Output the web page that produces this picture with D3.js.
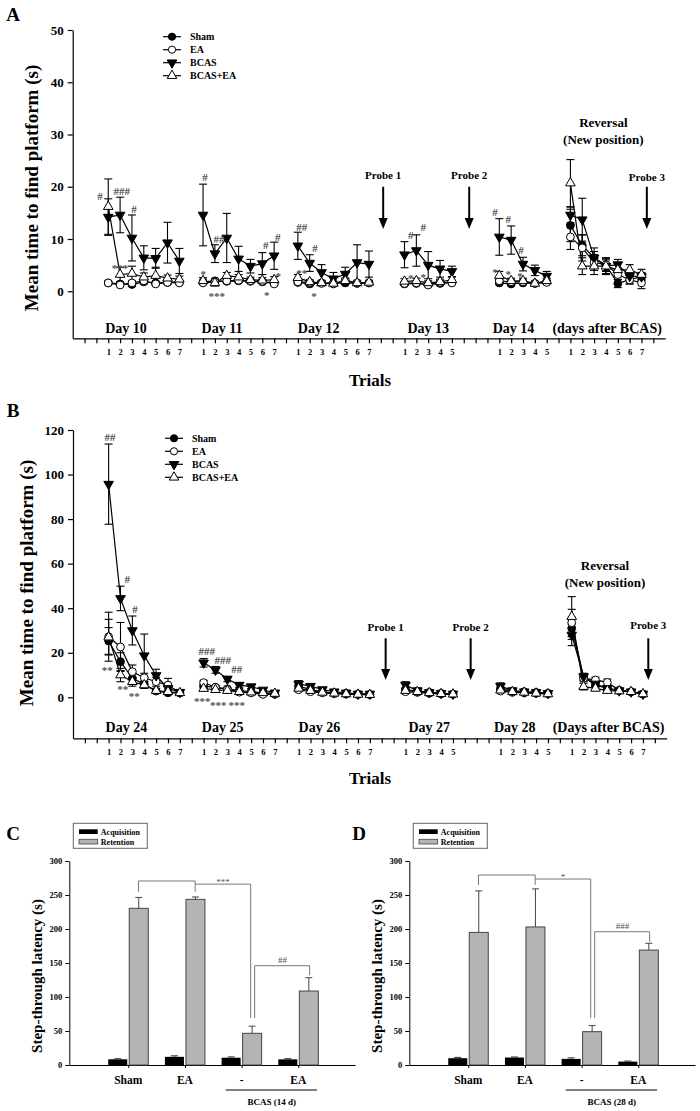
<!DOCTYPE html>
<html><head><meta charset="utf-8">
<script src="https://cdn.jsdelivr.net/npm/d3@7"></script>
<style>
body{margin:0;background:#fff}
text{font-family:"Liberation Serif","Times New Roman",serif;font-weight:bold;fill:#000}
</style>
</head><body><script>
// ---------------- DATA ----------------
const groups = ["Sham","EA","BCAS","BCAS+EA"];
const trialCounts = [7,7,7,5,5,7];
const dayStart = [3,11,19,28,36,42];          // trial-index of first trial of each session
const dayLabelsA = ["Day 10","Day 11","Day 12","Day 13","Day 14","(days after BCAS)"];
const dayLabelsB = ["Day 24","Day 25","Day 26","Day 27","Day 28","(Days after BCAS)"];
const yTicksA = [0,10,20,30,40,50];
const yTicksB = [0,20,40,60,80,100,120];
const yTicksBar = [0,50,100,150,200,250,300];
const probeLabels = ["Probe 1","Probe 2","Probe 3"];

const shamA = [1.6,1.4,1.3,1.8,1.6,1.7,1.8, 1.8,2.0,1.9,2.0,1.9,1.8,1.6, 1.7,1.4,1.6,1.5,1.6,1.5,1.6, 1.4,1.5,1.3,1.5,1.7, 1.6,1.4,1.6,1.5,1.8, 12.6,8.8,6.4,5.0,1.5,2.2,2.8];
const shamErrA = [0.3,0.3,0.3,0.4,0.3,0.3,0.3, 0.3,0.3,0.3,0.3,0.3,0.3,0.3, 0.3,0.3,0.3,0.3,0.3,0.3,0.3, 0.3,0.3,0.3,0.3,0.3, 0.3,0.3,0.3,0.3,0.3, 3.1,2.0,1.2,1.0,0.8,0.8,0.5];
const eaA = [1.6,1.2,1.6,2.0,1.4,1.7,1.6, 1.6,1.8,2.0,2.1,2.0,1.9,1.4, 1.8,1.7,1.5,1.4,2.1,1.6,1.6, 1.5,1.6,1.2,1.7,1.6, 2.0,1.8,1.8,1.5,1.7, 10.4,8.3,5.5,5.1,3.2,2.2,1.6];
const eaErrA = [0.3,0.3,0.3,0.3,0.3,0.3,0.3, 0.3,0.3,0.3,0.3,0.3,0.3,0.3, 0.3,0.3,0.3,0.3,0.3,0.3,0.3, 0.3,0.3,0.3,0.3,0.3, 0.3,0.3,0.3,0.3,0.3, 2.4,2.5,1.5,1.3,1.0,0.8,1.1];
const bcasA = [14.2,14.6,10.2,6.4,6.3,9.3,5.8, 14.6,7.2,10.2,6.2,4.8,5.3,6.8, 8.7,5.4,3.6,2.4,3.3,5.5,5.2, 7.0,7.8,5.0,4.3,3.8, 10.4,9.8,5.2,4.0,2.9, 14.6,13.7,6.4,4.8,5.1,2.9,2.8];
const bcasErrA = [3.5,3.4,4.4,2.3,1.9,3.9,2.4, 5.9,1.7,4.7,2.4,1.3,2.1,2.6, 2.6,1.6,1.5,1.2,1.3,3.4,2.5, 2.5,3.0,2.6,1.6,1.0, 3.5,2.7,1.3,1.0,0.9, 1.5,4.1,1.9,1.4,1.0,0.8,0.8];
const bcasEaA = [16.2,3.2,3.4,2.7,3.0,2.5,2.3, 2.0,1.6,3.0,2.7,2.2,2.1,2.2, 2.6,1.8,1.6,1.5,2.0,1.6,1.7, 1.9,2.0,1.6,1.8,2.2, 3.0,2.0,2.0,1.5,2.0, 20.7,4.8,4.8,4.8,4.1,4.1,3.2];
const bcasEaErrA = [5.3,1.4,1.4,0.8,1.6,0.6,0.6, 0.6,0.6,0.6,0.5,0.5,0.5,0.6, 0.6,0.4,0.4,0.4,0.5,0.4,0.4, 0.5,0.5,0.4,0.5,0.5, 0.8,0.5,0.5,0.4,0.5, 4.5,1.6,1.6,1.6,1.3,1.0,1.0];

const shamB = [25.3,16.0,8.5,5.8,2.8,2.0,2.0, 5.0,4.5,3.8,3.0,2.5,2.0,1.5, 5.0,3.5,2.5,2.0,1.8,1.5,1.3, 3.5,2.8,2.2,1.8,1.5, 3.8,2.8,2.5,2.2,1.8, 31.0,9.0,5.5,4.0,3.0,2.5,1.5];
const shamErrB = [6.0,4.0,2.0,1.5,1.0,0.6,0.5, 1.0,0.8,0.7,0.6,0.5,0.4,0.3, 1.0,0.7,0.5,0.4,0.4,0.3,0.3, 0.8,0.6,0.5,0.4,0.3, 0.8,0.6,0.5,0.4,0.4, 5.0,1.5,1.0,0.8,0.6,0.5,0.4];
const eaB = [27.2,22.6,11.5,8.8,7.0,5.5,2.0, 6.6,4.5,3.5,2.3,2.0,1.3,1.3, 3.4,2.5,2.0,1.6,1.4,1.2,1.2, 2.5,2.2,1.8,1.5,1.3, 2.8,2.2,2.0,1.8,1.6, 33.5,8.5,7.8,6.7,3.2,2.5,1.4];
const eaErrB = [11.0,11.0,3.0,2.0,2.0,3.0,1.0, 1.0,0.8,0.6,0.5,0.4,0.3,0.3, 0.6,0.5,0.4,0.3,0.3,0.3,0.3, 0.5,0.4,0.3,0.3,0.3, 0.6,0.4,0.4,0.3,0.3, 6.0,1.5,1.2,1.5,0.6,0.5,0.4];
const bcasB = [95.7,44.4,30.0,18.7,9.8,4.0,2.3, 15.5,12.3,8.2,5.5,4.8,3.3,2.0, 6.0,5.0,3.5,2.5,2.0,1.5,1.5, 5.5,3.0,2.2,1.8,1.5, 5.0,3.0,2.5,2.2,1.8, 28.0,9.3,6.0,4.0,3.0,2.5,1.5];
const bcasErrB = [18.0,5.5,6.5,9.7,2.8,1.5,1.0, 1.9,1.5,1.2,1.0,0.8,0.6,0.5, 1.5,1.0,0.8,0.6,0.5,0.4,0.4, 1.5,0.8,0.6,0.5,0.4, 1.5,0.8,0.6,0.5,0.4, 4.8,1.5,1.2,1.0,0.8,0.6,0.5];
const bcasEaB = [27.0,10.0,7.0,5.5,3.0,2.5,2.0, 3.9,3.4,3.0,2.5,2.3,2.0,1.7, 4.0,3.0,2.2,1.8,1.5,1.3,1.2, 3.0,2.5,2.0,1.6,1.4, 3.2,2.5,2.2,1.8,1.5, 36.2,4.8,4.0,3.0,2.8,2.5,1.5];
const bcasEaErrB = [8.0,3.0,2.0,1.5,1.0,0.8,0.6, 0.8,0.6,0.5,0.4,0.4,0.3,0.3, 0.8,0.6,0.4,0.3,0.3,0.3,0.3, 0.6,0.5,0.4,0.3,0.3, 0.6,0.5,0.4,0.3,0.3, 9.0,1.5,1.0,0.8,0.6,0.5,0.4];

// significance marks: [text, trial-index, value]
const marksA = [["#",2.31,18.2],["###",4.13,19.1],["#",5.17,15.7],["***",3.99,4.9],
  ["#",11.16,21.9],["##",12.35,10.0],["#",16.29,8.9],["#",17.3,10.4],["*",11.02,3.9],["***",12.15,-0.4],["*",16.37,-0.1],["*",17.35,3.4],
  ["##",19.32,12.2],["#",20.45,8.2],["**",19.32,4.1],["*",20.36,-0.3],
  ["#",28.52,10.8],["#",29.59,12.2],["*",28.52,3.1],["*",29.59,3.3],
  ["#",35.64,15.1],["#",36.76,13.8],["#",37.83,7.9],["*",35.64,4.2],["*",36.76,3.9],["*",37.74,3.4]];
const marksB = [["##",3.12,117],["#",4.57,53.1],["#",5.22,39.6],["**",2.89,13.5],["**",4.19,5.1],["**",5.16,1.8],
  ["###",11.26,20.9],["###",12.61,16.7],["##",13.79,12.6],["***",10.89,-0.4],["***",12.24,-2.4],["***",13.79,-2.4]];

// bar panels
const barCats = ["Sham","EA","-","EA"];
const acqC = [8.4,12.0,10.7,8.3];   const acqErrC = [0.8,1.5,1.2,1.0];
const retC = [230.4,243.6,46.6,108.8]; const retErrC = [16,3.5,10.5,19.6];
const acqD = [10.0,11.0,9.0,5.0];   const acqErrD = [1.2,0.8,1.5,0.8];
const retD = [195,203,49,169];      const retErrD = [61,56,9,10];

// ---------------- DRAW ----------------
const W=700,H=1111;
const svg = d3.select("body").append("svg").attr("width",W).attr("height",H);

const xIndex=[]; const sessOff=[]; {let a=0; trialCounts.forEach((c,s)=>{sessOff.push(a); for(let k=0;k<c;k++) xIndex.push(dayStart[s]+k); a+=c;});}
const trialLbl={}; trialCounts.forEach((c,s)=>{for(let k=0;k<c;k++) trialLbl[dayStart[s]+k]=k+1;});
const dayLblPos=[4.5,12.6,20.75,30.0,37.2,45.1];

function marker(g, shape, cx, cy, r){
  r = r||3.9;
  if(shape==="fc"||shape==="oc"){
    g.append("circle").attr("cx",cx).attr("cy",cy).attr("r",r)
      .attr("fill",shape==="fc"?"#000":"#fff").attr("stroke","#000").attr("stroke-width",1);
  } else {
    g.append("path").attr("d",d3.symbol(d3.symbolTriangle,40)())
      .attr("transform",`translate(${cx},${cy}) rotate(${shape==="ft"?180:0})`)
      .attr("fill",shape==="ft"?"#000":"#fff").attr("stroke","#000").attr("stroke-width",1);
  }
}
const shapes=["fc","oc","ft","ot"];

function linePanel(o){
  const g=svg.append("g");
  const x=d3.scaleLinear().domain([0,50]).range(o.xr);
  const y=d3.scaleLinear().domain(o.yd).range(o.yr);
  const axB=g.append("g").attr("transform",`translate(0,${o.yr[0]})`)
    .call(d3.axisBottom(x).tickValues(d3.range(1,50)).tickSize(5).tickSizeOuter(0).tickPadding(6).tickFormat(d=>trialLbl[d]||""));
  axB.selectAll("text").style("font-size","8.5px").attr("font-family",null);
  const axL=g.append("g").attr("transform",`translate(${o.xr[0]},0)`)
    .call(d3.axisLeft(y).tickValues(o.yt).tickSize(5).tickSizeOuter(0).tickPadding(4));
  axL.selectAll("text").style("font-size","13px").attr("font-family",null);
  g.selectAll(".domain,.tick line").attr("stroke","#000").attr("stroke-width",1.2);

  o.days.forEach((t,i)=>g.append("text").attr("x",x(dayLblPos[i])).attr("y",o.dayY)
    .attr("text-anchor","middle").style("font-size","14px").text(t));
  g.append("text").attr("x",o.trialsX).attr("y",o.trialsY).attr("text-anchor","middle").style("font-size","17px").text("Trials");
  g.append("text").attr("transform",`translate(${o.titleX},${o.titleY}) rotate(-90)`).attr("text-anchor","middle")
    .attr("dy","0.35em").style("font-size","19px").text("Mean time to find platform (s)");
  g.append("text").attr("x",13).attr("y",o.letterY).attr("text-anchor","middle").attr("dy","0.35em").style("font-size","19px").text(o.letter);

  const line=d3.line().x(d=>x(d[0])).y(d=>y(d[1]));
  o.series.forEach((s,si)=>{
    trialCounts.forEach((c,k)=>{
      const pts=[]; for(let j=0;j<c;j++){const i=sessOff[k]+j; pts.push([xIndex[i],s.v[i]]);}
      g.append("path").attr("d",line(pts)).attr("fill","none").attr("stroke","#000").attr("stroke-width",1.2);
    });
  });
  o.series.forEach((s,si)=>{
    s.v.forEach((v,i)=>{
      const cx=x(xIndex[i]), y1=y(v+s.e[i]), y0=y(v-s.e[i]);
      g.append("line").attr("x1",cx).attr("x2",cx).attr("y1",y1).attr("y2",y0).attr("stroke","#000").attr("stroke-width",1.1);
      [y1,y0].forEach(yy=>g.append("line").attr("x1",cx-4).attr("x2",cx+4).attr("y1",yy).attr("y2",yy).attr("stroke","#000").attr("stroke-width",1.1));
    });
  });
  o.series.forEach((s,si)=>{
    s.v.forEach((v,i)=>marker(g,shapes[si],x(xIndex[i]),y(v)));
  });
  o.marks.forEach(m=>g.append("text").attr("x",x(m[1])).attr("y",y(m[2])).attr("text-anchor","middle")
    .attr("dy",m[0].includes("*")?"0.62em":"0.35em").style("font-size","11px").style("fill","#505050").text(m[0]));
  groups.forEach((t,i)=>{
    const ly=o.legY+i*13;
    g.append("line").attr("x1",o.legX).attr("x2",o.legX+18).attr("y1",ly).attr("y2",ly).attr("stroke","#000").attr("stroke-width",1.2);
    marker(g,shapes[i],o.legX+9,ly,3.6);
    g.append("text").attr("x",o.legX+27).attr("y",ly).attr("dy","0.35em").style("font-size","10px").text(t);
  });
  o.probes.forEach((p,i)=>{
    const px=x(p);
    g.append("text").attr("x",px).attr("y",y(o.probeText[i])).attr("dy","0.35em").attr("text-anchor","middle").style("font-size","11px").text(probeLabels[i]);
    const ya=y(o.probeArrow[0]), yb=y(o.probeArrow[1]);
    g.append("line").attr("x1",px).attr("x2",px).attr("y1",ya).attr("y2",yb-8).attr("stroke","#000").attr("stroke-width",2);
    g.append("path").attr("d",`M${px-4.5},${yb-11}L${px+4.5},${yb-11}L${px},${yb}Z`).attr("fill","#000");
  });
  g.append("text").attr("x",x(o.rev[0])).attr("y",y(o.rev[1])).attr("dy","0.35em").attr("text-anchor","middle").style("font-size","13px").text("Reversal");
  g.append("text").attr("x",x(o.rev[0])).attr("y",y(o.rev[2])).attr("dy","0.35em").attr("text-anchor","middle").style("font-size","13px").text("(New position)");
}

linePanel({xr:[72.7,665.2], yd:[-9,50], yr:[338.3,30], yt:yTicksA, days:dayLabelsA, dayY:333, trialsX:370, trialsY:386,
  titleX:31.7, titleY:188, letter:"A", letterY:14,
  series:[{v:shamA,e:shamErrA},{v:eaA,e:eaErrA},{v:bcasA,e:bcasErrA},{v:bcasEaA,e:bcasEaErrA}],
  marks:marksA, legX:163, legY:36.7, probes:[26.2,33.46,48.45], probeText:[22.3,22.3,21.9], probeArrow:[20.0,11.9],
  rev:[44.78,32.3,29.1]});
linePanel({xr:[73,666.7], yd:[-18.4,120], yr:[738.3,430], yt:yTicksB, days:dayLabelsB, dayY:731.5, trialsX:370, trialsY:784,
  titleX:26, titleY:583, letter:"B", letterY:410,
  series:[{v:shamB,e:shamErrB},{v:eaB,e:eaErrB},{v:bcasB,e:bcasErrB},{v:bcasEaB,e:bcasEaErrB}],
  marks:marksB, legX:165, legY:438.3, probes:[26.33,33.49,48.45], probeText:[31.4,31.4,32.4], probeArrow:[26.5,7.8],
  rev:[44.8,59.1,51.6]});

function barPanel(o){
  const g=svg.append("g");
  const x=d3.scaleLinear().domain([-0.04,5]).range(o.xr);
  const y=d3.scaleLinear().domain([0,300]).range([1065,861]);
  g.append("g").attr("transform","translate(0,1065)")
    .call(d3.axisBottom(x).tickValues([1,2,3,4]).tickSize(3).tickSizeOuter(0).tickFormat(""));
  const axL=g.append("g").attr("transform",`translate(${o.xr[0]},0)`)
    .call(d3.axisLeft(y).tickValues(yTicksBar).tickSize(4).tickSizeOuter(0).tickPadding(3));
  axL.selectAll("text").style("font-size","8.5px").attr("font-family",null);
  g.selectAll(".domain,.tick line").attr("stroke","#000").attr("stroke-width",1);
  [1,2,3,4].forEach((c,i)=>{
    const cx=x(c);
    g.append("rect").attr("x",cx-20).attr("width",19).attr("y",y(o.acq[i])).attr("height",y(0)-y(o.acq[i])).attr("fill","#000");
    g.append("line").attr("x1",cx-10.5).attr("x2",cx-10.5).attr("y1",y(o.acq[i])).attr("y2",y(o.acq[i]+o.acqE[i])).attr("stroke","#333");
    g.append("line").attr("x1",cx-14).attr("x2",cx-7).attr("y1",y(o.acq[i]+o.acqE[i])).attr("y2",y(o.acq[i]+o.acqE[i])).attr("stroke","#333");
    g.append("line").attr("x1",cx+10.5).attr("x2",cx+10.5).attr("y1",y(o.ret[i])).attr("y2",y(o.ret[i]+o.retE[i])).attr("stroke","#444");
    g.append("line").attr("x1",cx+7).attr("x2",cx+14).attr("y1",y(o.ret[i]+o.retE[i])).attr("y2",y(o.ret[i]+o.retE[i])).attr("stroke","#444");
    g.append("rect").attr("x",cx+1).attr("width",19).attr("y",y(o.ret[i])).attr("height",y(0)-y(o.ret[i]))
      .attr("fill","#b4b4b4").attr("stroke","#444").attr("stroke-width",1);
    g.append("text").attr("x",cx).attr("y",1084).attr("text-anchor","middle").style("font-size","11.5px").text(barCats[i]);
  });
  g.append("line").attr("x1",x(2.72)).attr("x2",x(4.33)).attr("y1",1090).attr("y2",1090).attr("stroke","#000");
  g.append("text").attr("x",x(3.53)).attr("y",1105).attr("text-anchor","middle").style("font-size","9px").text(o.bcas);
  const br=(pts)=>g.append("path").attr("d",d3.line()(pts)).attr("fill","none").attr("stroke","#777").attr("stroke-width",1);
  const b=o.br;
  br([[x(1.18),y(b[1])],[x(1.18),y(b[0])],[x(2.18),y(b[0])],[x(2.18),y(b[1])]]);
  br([[x(2.18),y(b[2])],[x(3.16),y(b[2])],[x(3.16),y(69)]]);
  br([[x(3.23),y(69)],[x(3.23),y(b[3])],[x(4.2),y(b[3])],[x(4.2),y(b[4])]]);
  g.append("text").attr("x",x(2.67)).attr("y",y(b[2])).attr("dy","0.1em").attr("text-anchor","middle").style("font-size","9px").style("font-weight","normal").style("fill","#555").text(o.sig1);
  g.append("text").attr("x",x(3.72)).attr("y",y(b[3])).attr("dy","-0.35em").attr("text-anchor","middle").style("font-size","9px").style("font-weight","normal").style("fill","#555").text(o.sig2);
  g.append("text").attr("transform",`translate(${o.titleX},976) rotate(-90)`).attr("text-anchor","middle").attr("dy","0.35em").style("font-size","15px").text("Step-through latency (s)");
  g.append("text").attr("x",o.letterX).attr("y",833).attr("text-anchor","middle").attr("dy","0.35em").style("font-size","19px").text(o.letter);
  const lx=o.xr[0]+4;
  g.append("rect").attr("x",lx).attr("y",823.3).attr("width",74).attr("height",25).attr("fill","#fff").attr("stroke","#666");
  g.append("rect").attr("x",lx+5.7).attr("y",829.3).attr("width",18.7).attr("height",4.7).attr("fill","#000");
  g.append("rect").attr("x",lx+5.7).attr("y",839.3).attr("width",18.7).attr("height",4.7).attr("fill","#b4b4b4").attr("stroke","#444").attr("stroke-width",0.8);
  g.append("text").attr("x",lx+27.5).attr("y",831.7).attr("dy","0.35em").style("font-size","8px").text("Acquisition");
  g.append("text").attr("x",lx+27.5).attr("y",842).attr("dy","0.35em").style("font-size","8px").text("Retention");
}
barPanel({xr:[69.3,355], acq:acqC, acqE:acqErrC, ret:retC, retE:retErrC, bcas:"BCAS (14 d)", br:[270.6,254.9,266,146,132],
  sig1:"***", sig2:"##", titleX:36.7, letter:"C", letterX:13});
barPanel({xr:[409.3,695], acq:acqD, acqE:acqErrD, ret:retD, retE:retErrD, bcas:"BCAS (28 d)", br:[279.4,264.7,273.5,196,181],
  sig1:"*", sig2:"###", titleX:376.7, letter:"D", letterX:359});
</script></body></html>
